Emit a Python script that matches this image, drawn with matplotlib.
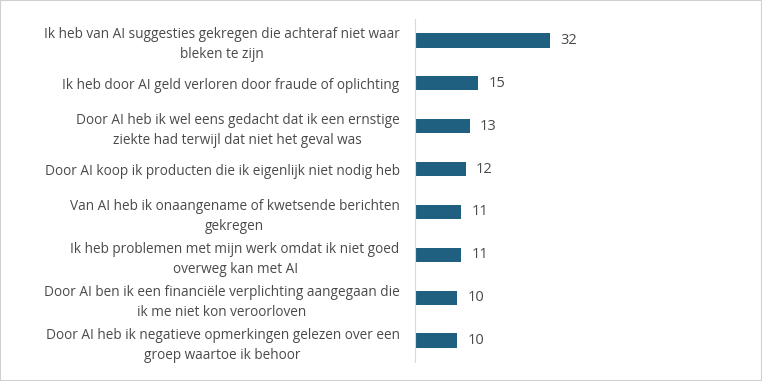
import matplotlib.pyplot as plt
from matplotlib.patches import Rectangle

labels = [
    "Ik heb van AI suggesties gekregen die achteraf niet waar\nbleken te zijn",
    "Ik heb door AI geld verloren door fraude of oplichting",
    "Door AI heb ik wel eens gedacht dat ik een ernstige\nziekte had terwijl dat niet het geval was",
    "Door AI koop ik producten die ik eigenlijk niet nodig heb",
    "Van AI heb ik onaangename of kwetsende berichten\ngekregen",
    "Ik heb problemen met mijn werk omdat ik niet goed\noverweg kan met AI",
    "Door AI ben ik een financiële verplichting aangegaan die\nik me niet kon veroorloven",
    "Door AI heb ik negatieve opmerkingen gelezen over een\ngroep waartoe ik behoor",
]
values = [32, 15, 13, 12, 11, 11, 10, 10]

bar_color = "#1f5f7f"
text_color = "#4a4a4a"

plt.rcParams['font.family'] = ['Open Sans', 'DejaVu Sans']

fig = plt.figure(figsize=(7.62, 3.81), dpi=100)
ax = fig.add_axes([415 / 762, 19 / 381, 325 / 762, 343 / 381])

pos = list(range(len(values)))
ax.barh(pos, values, height=0.33, color=bar_color)
ax.set_ylim(len(values) - 0.5, -0.5)
ax.set_xlim(0, 77)

for p, v in zip(pos, values):
    ax.text(v + 2.4, p, str(v), va="center", ha="left", fontsize=10.5, color=text_color)

ax.set_yticks(pos)
ax.set_yticklabels(labels, fontsize=9.8, color=text_color, linespacing=1.45)
for t in ax.get_yticklabels():
    t.set_multialignment("center")
ax.tick_params(axis="y", length=0, pad=11)
ax.set_xticks([])

for s in ["top", "right", "bottom"]:
    ax.spines[s].set_visible(False)
ax.spines["left"].set_color("#d9d9d9")

fig.patches.append(Rectangle((0, 0), 1, 1, transform=fig.transFigure, fill=False,
                             edgecolor="#d0d0d0", linewidth=1.5))

fig.savefig("out.png", dpi=100)
